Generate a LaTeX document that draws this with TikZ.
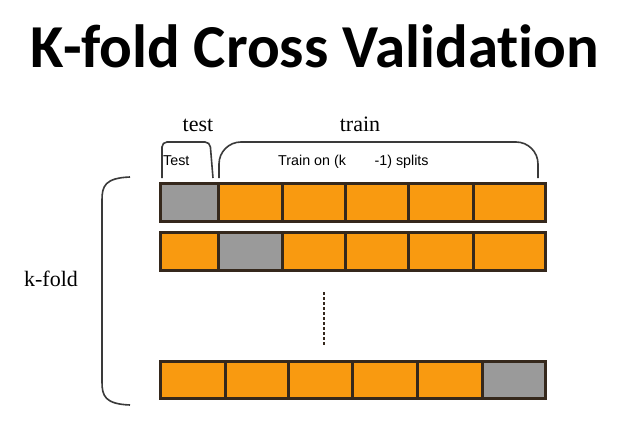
\documentclass[tikz,border=0pt]{standalone}
\usepackage{fontspec}
\setmainfont{Liberation Serif}
\newfontfamily\titlefont[Ligatures=NoCommon]{Carlito}
\newfontfamily\smallsans{Liberation Sans}
\definecolor{foldorange}{HTML}{F99A10}
\definecolor{foldgray}{HTML}{9A9A9A}
\definecolor{foldedge}{HTML}{35281C}
\definecolor{bracegray}{HTML}{3A3A3A}
\begin{document}
\begin{tikzpicture}[x=1pt,y=-1pt,
  cell/.style={draw=foldedge,line width=3pt,inner sep=0pt,outer sep=0pt},
  bracketline/.style={draw=bracegray,line width=1.6pt},
  serlabel/.style={font=\fontsize{22}{24}\selectfont,inner sep=0pt},
  smalllabel/.style={font=\smallsans\fontsize{14.3}{16}\selectfont,inner sep=0pt}]
\useasboundingbox[fill=white] (0,0) rectangle (627,431);
% title
\node[font=\titlefont\bfseries\fontsize{61}{66}\selectfont,inner sep=0pt,anchor=base] (title) at (315,67) {K-fold Cross Validation};
% labels
\node[serlabel,anchor=base] (testlbl) at (198,131) {test};
\node[serlabel,anchor=base] (trainlbl) at (360,131) {train};
\node[serlabel,anchor=base] (kfold) at (51,286) {k-fold};
% rows
\newcommand{\foldrow}[4]{%
  \foreach \xa/\xb/\c [count=\i] in {#3} {
    \fill[\c] (\xa,#1) rectangle (\xb,#2);
    \draw[cell] (\xa,#1) rectangle (\xb,#2);
    \coordinate (#4\i) at ({(\xa+\xb)/2},{(#1+#2)/2});
  }}
\foldrow{183}{221}{160/218/foldgray,218/282/foldorange,282/345/foldorange,345/408/foldorange,408/473/foldorange,473/545/foldorange}{ra}
\foldrow{232}{270}{160/218/foldorange,218/282/foldgray,282/345/foldorange,345/408/foldorange,408/473/foldorange,473/545/foldorange}{rb}
\foldrow{361}{398}{160/225/foldorange,225/288/foldorange,288/352/foldorange,352/417/foldorange,417/482/foldorange,482/545/foldgray}{rc}
% brackets over first row
\coordinate (tb1) at (162,178);
\coordinate (tb2) at (213,178);
\draw[bracketline,rounded corners=5pt] (tb1) -- (162,142) -- (210,142) -- (tb2);
\coordinate (rb1) at (219,178);
\coordinate (rb2) at (538,178);
\draw[bracketline,rounded corners=22pt] (rb1) -- (219,142) -- (538,142) -- (rb2);
\node[smalllabel,anchor=base west] (testsmall) at (163,165) {Test};
\node[smalllabel,anchor=base west] (trainsmall) at (278,165) {Train on (k\hspace{2em}-1) splits};
% dots
\coordinate (d1) at (324,292);
\coordinate (d2) at (324,346);
\draw[foldedge,line width=2.6pt,dash pattern=on 2.6pt off 2.4pt] (d1) -- (d2);
% left brace
\coordinate (bt) at (130,177);
\coordinate (bb) at (130,405);
\draw[bracketline] (bt) .. controls (105,178) and (102,186) .. (102,200) -- (102,382) .. controls (102,396) and (105,404) .. (bb);
\end{tikzpicture}
\end{document}
